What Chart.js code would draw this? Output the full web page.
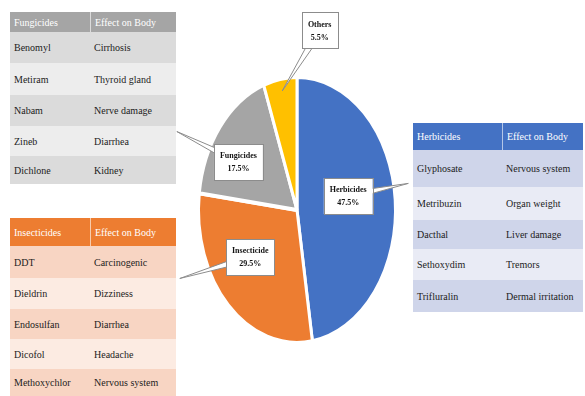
<!DOCTYPE html>
<html>
<head>
<meta charset="utf-8">
<script src="https://cdn.jsdelivr.net/npm/chart.js@4.4.0/dist/chart.umd.min.js"></script>
<style>
body { margin: 0; background: #fff; width: 585px; height: 396px; overflow: hidden; position: relative;
       font-family: "Liberation Serif", "Times New Roman", serif; }
#wrap { position: absolute; left: 0; top: 0; width: 585px; height: 396px; pointer-events: none; }
.tbl { position: absolute; font-size: 10px; color: #1c1c1c; }
.row { display: flex; }
.cell { box-sizing: border-box; padding-left: 4px; display: flex; align-items: center; white-space: nowrap; }
.head .cell { color: #fff; }
.head .cell + .cell { border-left: 1px solid rgba(255,255,255,0.6); }
</style>
</head>
<body>
<div id="fung" class="tbl"></div>
<div id="insect" class="tbl"></div>
<div id="herb" class="tbl"></div>
<div id="wrap"><canvas id="myChart"></canvas></div>
<script>
// pie slices
var pieLabels = ['Herbicides', 'Insecticide', 'Fungicides', 'Others'];
var pieValues = [47.5, 29.5, 17.5, 5.5];
var pieColors = ['#4472c4', '#ed7d31', '#a5a5a5', '#ffc000'];

// side tables
var herbicideNames = ['Glyphosate', 'Metribuzin', 'Dacthal', 'Sethoxydim', 'Trifluralin'];
var herbicideEffects = ['Nervous system', 'Organ weight', 'Liver damage', 'Tremors', 'Dermal irritation'];
var insecticideNames = ['DDT', 'Dieldrin', 'Endosulfan', 'Dicofol', 'Methoxychlor'];
var insecticideEffects = ['Carcinogenic', 'Dizziness', 'Diarrhea', 'Headache', 'Nervous system'];
var fungicideNames = ['Benomyl', 'Metiram', 'Nabam', 'Zineb', 'Dichlone'];
var fungicideEffects = ['Cirrhosis', 'Thyroid gland', 'Nerve damage', 'Diarrhea', 'Kidney'];

function makeTable(id, title, names, effects, look) {
    var el = document.getElementById(id);
    el.style.left = look.left + 'px';
    el.style.top = look.top + 'px';
    var html = '<div class="row head" style="background:' + look.head + ';height:' + look.headH + 'px">' +
        '<div class="cell" style="width:' + look.cols[0] + 'px">' + title + '</div>' +
        '<div class="cell" style="width:' + look.cols[1] + 'px">Effect on Body</div></div>';
    for (var i = 0; i < names.length; i++) {
        html += '<div class="row" style="background:' + look.rows[i % 2] + ';height:' + look.rowH[i] + 'px">' +
            '<div class="cell" style="width:' + look.cols[0] + 'px">' + names[i] + '</div>' +
            '<div class="cell" style="width:' + look.cols[1] + 'px">' + effects[i] + '</div></div>';
    }
    el.innerHTML = html;
}

makeTable('fung', 'Fungicides', fungicideNames, fungicideEffects, {
    left: 10, top: 12, cols: [80, 86], headH: 20, rowH: [31, 32, 31, 30, 28],
    head: '#a5a5a5', rows: ['#dbdbdb', '#ededed']
});
makeTable('insect', 'Insecticides', insecticideNames, insecticideEffects, {
    left: 10, top: 218, cols: [80, 86], headH: 28, rowH: [32, 31, 30, 30, 27],
    head: '#ed7d31', rows: ['#f8d5c3', '#fcebe2']
});
makeTable('herb', 'Herbicides', herbicideNames, herbicideEffects, {
    left: 413, top: 123, cols: [89, 81], headH: 27, rowH: [37, 33, 29, 31, 32],
    head: '#4472c4', rows: ['#cfd5ea', '#e9ebf5']
});

// the pie in the picture is stretched into an upright ellipse
var stretch = 1.35;

// callout box / wedge tip, as fractions of the ellipse radii from the centre
var callouts = [
    { box: [0.52, -0.105], tip: [1.13, -0.2] },
    { box: [-0.475, 0.355], tip: [-1.19, 0.515] },
    { box: [-0.595, -0.36], tip: [-1.22, -0.59] },
    { box: [0.23, -1.35], tip: [-0.15, -0.895] }
];

const ellipsePlugin = {
    id: 'ellipse',
    beforeDatasetsDraw(chart) {
        var a = chart.getDatasetMeta(0).data[0];
        var ctx = chart.ctx;
        ctx.save();
        ctx.translate(a.x, a.y);
        ctx.scale(1, stretch);
        ctx.translate(-a.x, -a.y);
    },
    afterDatasetsDraw(chart) {
        chart.ctx.restore();
    }
};

const calloutPlugin = {
    id: 'callouts',
    afterDraw(chart) {
        var ctx = chart.ctx;
        var meta = chart.getDatasetMeta(0);
        ctx.save();
        ctx.font = 'bold 8px "Liberation Serif", serif';
        ctx.textAlign = 'center';
        ctx.textBaseline = 'middle';
        meta.data.forEach(function (arc, i) {
            var rx = arc.outerRadius, ry = arc.outerRadius * stretch;
            var c = callouts[i];
            var bx = arc.x + c.box[0] * rx, by = arc.y + c.box[1] * ry;
            var tx = arc.x + c.tip[0] * rx, ty = arc.y + c.tip[1] * ry;
            var l1 = pieLabels[i], l2 = pieValues[i].toFixed(1) + '%';
            var w = Math.max(ctx.measureText(l1).width, ctx.measureText(l2).width) + 12;
            var h = 36;
            // wedge
            var dx = tx - bx, dy = ty - by, len = Math.sqrt(dx * dx + dy * dy);
            var px = -dy / len * 4, py = dx / len * 4;
            ctx.beginPath();
            ctx.moveTo(bx + px, by + py);
            ctx.lineTo(tx, ty);
            ctx.lineTo(bx - px, by - py);
            ctx.closePath();
            ctx.fillStyle = '#fff';
            ctx.fill();
            ctx.strokeStyle = '#8c8c8c';
            ctx.lineWidth = 1;
            ctx.stroke();
            // box
            ctx.fillRect(bx - w / 2, by - h / 2, w, h);
            ctx.strokeRect(Math.round(bx - w / 2) + 0.5, Math.round(by - h / 2) + 0.5, Math.round(w), h);
            ctx.fillStyle = '#111';
            ctx.fillText(l1, bx, by - 6);
            ctx.fillText(l2, bx, by + 7);
        });
        ctx.restore();
    }
};

const GRAPH = document.getElementById('myChart');
const pieChart = new Chart(GRAPH, {
    type: 'pie',
    data: {
        labels: pieLabels,
        datasets: [{
            data: pieValues,
            backgroundColor: pieColors,
            borderColor: '#ffffff',
            borderWidth: 3
        }]
    },
    options: {
        responsive: true,
        maintainAspectRatio: false,
        animation: false,
        devicePixelRatio: 1,
        layout: { padding: { left: 197, right: 188, top: 110, bottom: 86 } },
        plugins: {
            legend: { display: false },
            tooltip: { enabled: false }
        }
    },
    plugins: [ellipsePlugin, calloutPlugin]
});
</script>
</body>
</html>
